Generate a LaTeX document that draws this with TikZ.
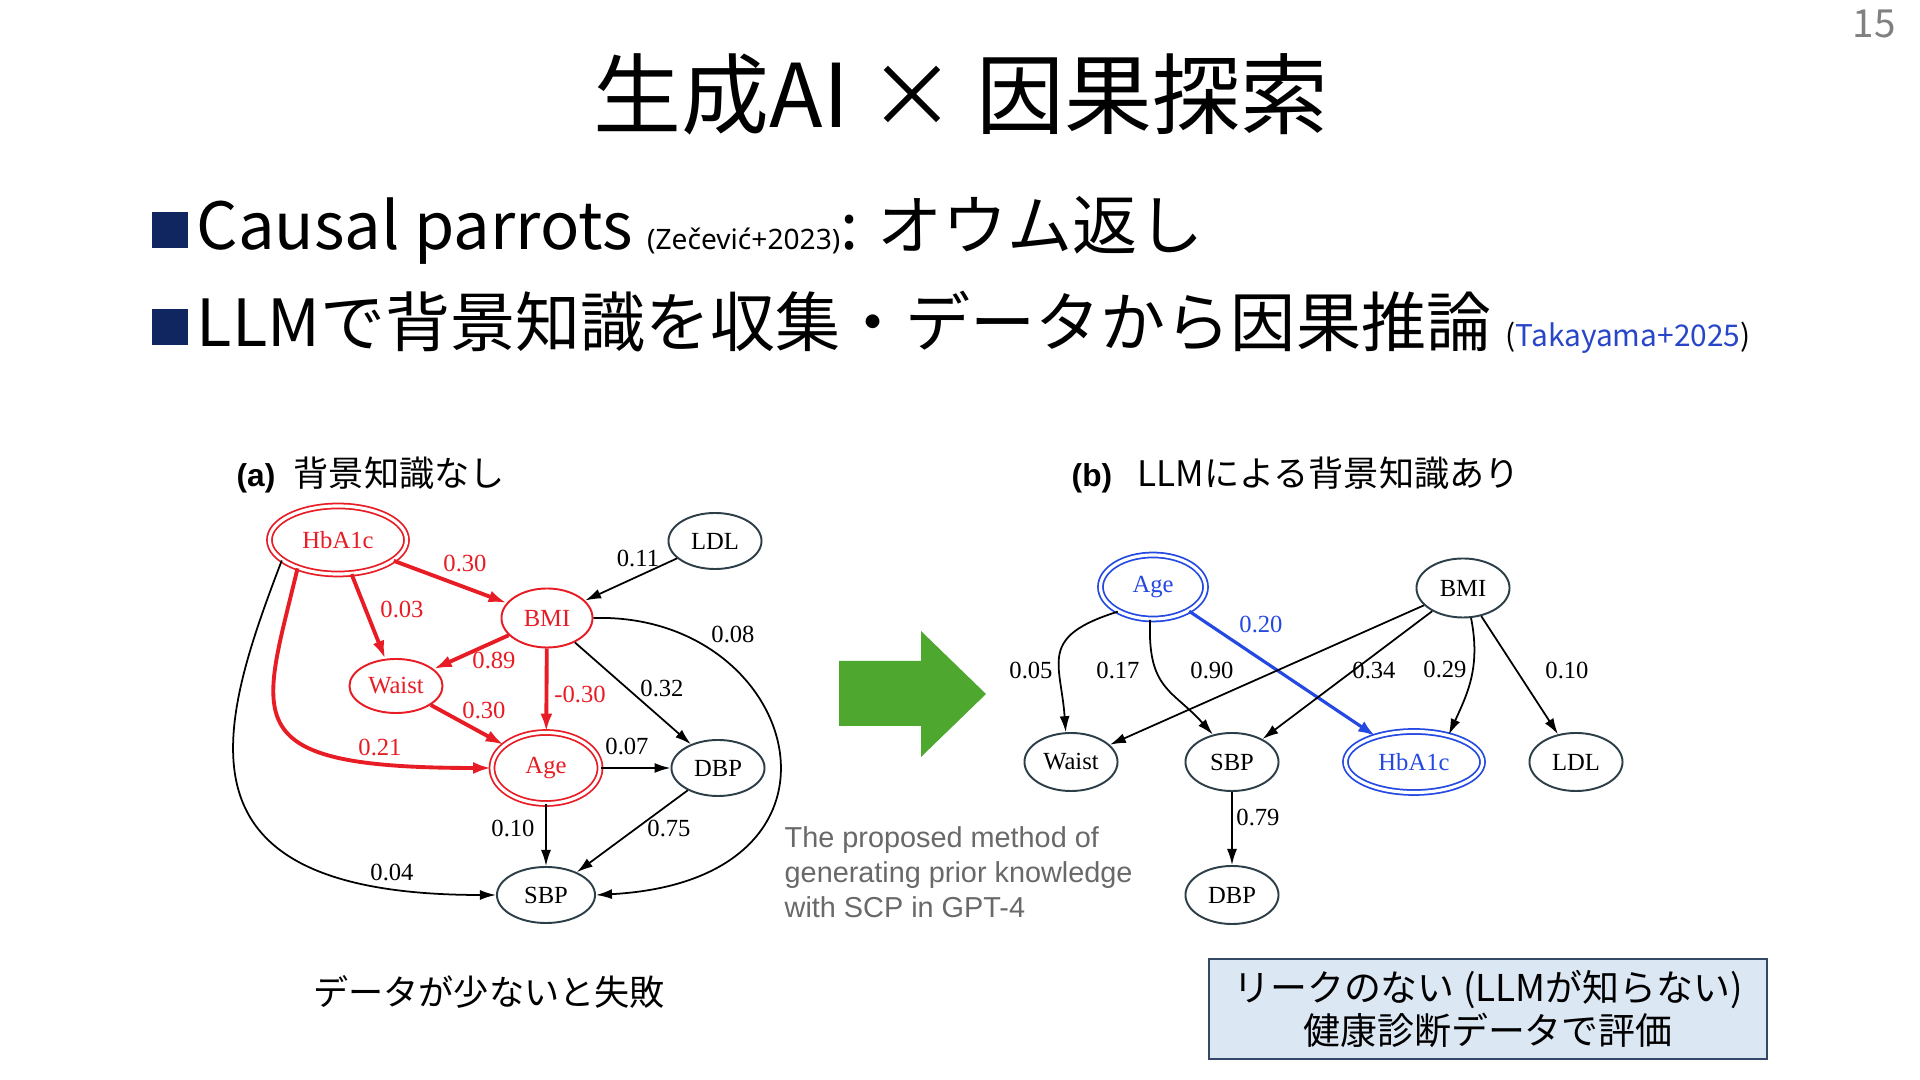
\documentclass[tikz,border=0pt]{standalone}
\usepackage{fontspec}
\setmainfont{Noto Sans CJK JP}
\newfontfamily\gvfont{Liberation Serif}
\newfontfamily\arialfont{Liberation Sans}
\newfontfamily\latinfont{Noto Sans}
\usepackage{xcolor}
\usetikzlibrary{arrows.meta, positioning, shapes.geometric}
\definecolor{tred}{RGB}{232,28,36}
\definecolor{tblue}{RGB}{36,72,226}
\definecolor{tnavy}{RGB}{16,38,96}
\definecolor{tgreen}{RGB}{78,167,46}
\definecolor{tgray}{RGB}{105,105,105}
\definecolor{tslate}{RGB}{44,62,72}
\definecolor{tboxfill}{RGB}{220,231,244}
\definecolor{tboxline}{RGB}{52,72,104}
\definecolor{tcite}{RGB}{40,70,200}

\begin{document}
\begin{tikzpicture}[
  x=0.01cm, y=-0.01cm,
  gv/.style={ellipse, draw=tslate, line width=0.55pt, inner sep=0pt,
             font=\gvfont\fontsize{7}{8}\selectfont,
             minimum width=0.93cm, minimum height=0.56cm},
  gvred/.style={gv, draw=tred, text=tred},
  gvblue/.style={gv, draw=tblue, text=tblue},
  gvdbl/.style={double=white, double distance=0.9pt, line width=0.5pt},
  link/.style={-{Latex[length=1.6mm,width=1.0mm]}, line width=0.5pt, black},
  redlink/.style={-{Latex[length=1.8mm,width=1.2mm]}, line width=1.1pt, tred},
  bluelink/.style={-{Latex[length=1.7mm,width=1.2mm]}, line width=0.9pt, tblue},
  elab/.style={font=\gvfont\fontsize{7}{8}\selectfont, inner sep=0pt},
  bsq/.style={fill=tnavy, minimum size=0.36cm, inner sep=0pt},
  btxt/.style={font=\fontsize{18.5}{22}\selectfont, inner sep=0pt},
  seclab/.style={font=\arialfont\bfseries\fontsize{9}{10}\selectfont, inner sep=0pt},
  secjp/.style={font=\fontsize{10}{12}\selectfont, inner sep=0pt}
]
\fill[white] (0,0) rectangle (1920,1080);
\useasboundingbox (0,0) rectangle (1920,1080);

% ---- Title and bullets ----
\node[font=\fontsize{25}{30}\selectfont, anchor=base, inner sep=0pt] (ttl) at (961,128)
  {生成AI × 因果探索};
\node[text=tgray!85, font=\fontsize{11}{12}\selectfont] (pno) at (1874,24) {15};

\node[bsq] (b1) at (170,230) {};
\node[btxt, anchor=base west] (t1) at (196,250)
  {Causal parrots {\latinfont\fontsize{8}{10}\selectfont (Zečević+2023)}: オウム返し};
\node[bsq] (b2) at (170,327) {};
\node[btxt, anchor=base west] (t2) at (196,347)
  {LLMで背景知識を収集・データから因果推論 {\fontsize{8.5}{10}\selectfont (\textcolor{tcite}{Takayama+2025})}};

% ---- Panel labels ----
\node[seclab, anchor=base west] (alab) at (236,487) {(a)};
\node[secjp, base right=0.17cm of alab] (atxt) {背景知識なし};
\node[seclab, anchor=base west] (blab) at (1071,487) {(b)};
\node[secjp, base right=0.24cm of blab] (btxt) {LLMによる背景知識あり};

% ---- (a) graph without background knowledge ----
\node[gvred, gvdbl, minimum width=1.37cm, minimum height=0.68cm] (hba) at (338,540) {HbA1c};
\node[gv] (ldl) at (715,541) {LDL};
\node[gvred, minimum width=0.91cm, minimum height=0.59cm] (bmi) at (547,618) {BMI};
\node[gvred, minimum height=0.54cm] (waist) at (396,686) {Waist};
\node[gvred, gvdbl, minimum width=1.08cm, minimum height=0.71cm] (age) at (546,768) {Age};
\node[gv] (dbp) at (718,768) {DBP};
\node[gv, minimum width=0.98cm] (sbp) at (546,895) {SBP};

\draw[redlink] (hba) -- (bmi);
\node[elab, tred] (e1) at (465,563) {0.30};
\draw[link] (ldl) -- (bmi);
\node[elab] (e2) at (638,558) {0.11};
\draw[redlink] (hba) -- (waist);
\node[elab, tred] (e3) at (402,609) {0.03};
\draw[redlink] (bmi) -- (waist);
\node[elab, tred] (e4) at (494,660) {0.89};
\draw[redlink] (bmi) -- (age);
\node[elab, tred] (e5) at (580,694) {-0.30};
\draw[redlink] (waist) -- (age);
\node[elab, tred] (e6) at (484,710) {0.30};
\draw[redlink] (hba.215) .. controls +(-36,152) and +(-260,0) .. (age.west);
\node[elab, tred] (e7) at (380,747) {0.21};
\draw[link] (hba.200) .. controls +(-65,170) and +(-330,0) .. (sbp.west);
\node[elab] (e8) at (392,872) {0.04};
\draw[link] (bmi.east) .. controls +(207,-6) and +(280,-15) .. (sbp.east);
\node[elab] (e9) at (733,634) {0.08};
\draw[link] (bmi) -- (dbp);
\node[elab] (e10) at (662,688) {0.32};
\draw[link] (age) -- (dbp);
\node[elab] (e11) at (627,746) {0.07};
\draw[link] (age) -- (sbp);
\node[elab] (e12) at (513,828) {0.10};
\draw[link] (dbp) -- (sbp);
\node[elab] (e13) at (669,828) {0.75};

% ---- Arrow and method caption ----
\fill[tgreen] (839,661) -- (921,661) -- (921,631) -- (986,694) -- (921,757)
  -- (921,726) -- (839,726) -- cycle;
\node[anchor=north west, align=left, inner sep=0pt, text=tgray,
      font=\arialfont\fontsize{8.2}{10}\selectfont] (capt) at (784,826)
  {The proposed method of\\generating prior knowledge\\with SCP in GPT-4};

% ---- (b) graph with LLM knowledge ----
\node[gvblue, gvdbl, minimum width=1.05cm, minimum height=0.64cm] (rage) at (1153,587) {Age};
\node[gv, minimum height=0.59cm] (rbmi) at (1463,588) {BMI};
\node[gv, minimum height=0.58cm] (rwaist) at (1071,762) {Waist};
\node[gv, minimum height=0.58cm] (rsbp) at (1232,762) {SBP};
\node[gvblue, gvdbl, minimum width=1.37cm, minimum height=0.61cm] (rhba) at (1414,762) {HbA1c};
\node[gv, minimum height=0.58cm] (rldl) at (1576,762) {LDL};
\node[gv, minimum height=0.58cm] (rdbp) at (1232,895) {DBP};

\draw[link] (rage.215) .. controls +(-80,25) and +(-5,-70) .. (rwaist.100);
\node[elab] (f1) at (1031,670) {0.05};
\draw[link] (rage.265) .. controls +(-3,70) and +(-40,-45) .. (rsbp.125);
\node[elab] (f2) at (1118,670) {0.17};
\draw[bluelink] (rage) -- (rhba);
\node[elab, tblue] (f3) at (1261,624) {0.20};
\draw[link] (rbmi) -- (rwaist);
\node[elab] (f4) at (1212,670) {0.90};
\draw[link] (rbmi) -- (rsbp);
\node[elab] (f5) at (1374,670) {0.34};
\draw[link] (rbmi.285) .. controls +(10,50) and +(18,-40) .. (rhba.38);
\node[elab] (f6) at (1445,669) {0.29};
\draw[link] (rbmi) -- (rldl);
\node[elab] (f7) at (1567,670) {0.10};
\draw[link] (rsbp) -- (rdbp);
\node[elab] (f8) at (1258,817) {0.79};

% ---- Bottom notes ----
\node[secjp] (fail) at (489,992) {データが少ないと失敗};
\node[draw=tboxline, fill=tboxfill, line width=0.6pt, minimum width=5.58cm,
      minimum height=1.0cm, align=center, inner sep=0pt,
      font=\fontsize{10.5}{12.3}\selectfont] (leak) at (1488,1009)
  {リークのない (LLMが知らない)\\健康診断データで評価};

\end{tikzpicture}
\end{document}
